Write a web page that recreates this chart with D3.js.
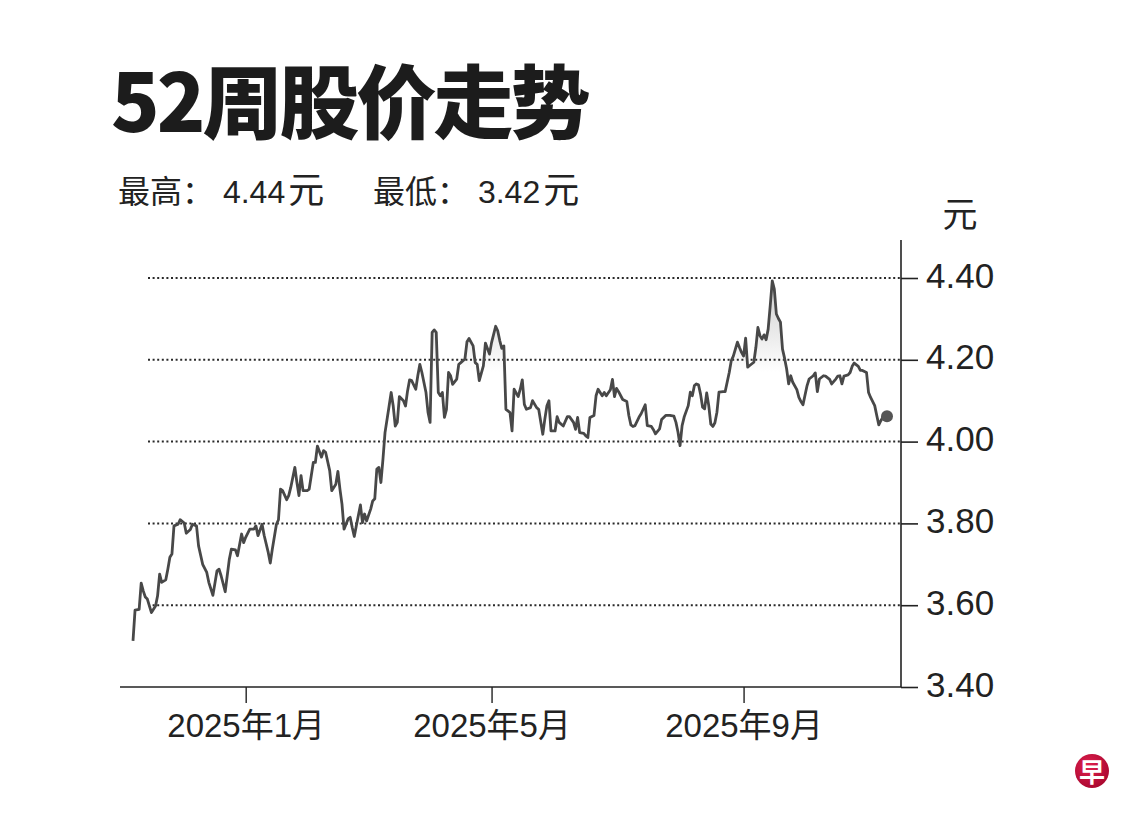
<!DOCTYPE html>
<html>
<head>
<meta charset="utf-8">
<script src="https://cdn.jsdelivr.net/npm/d3@7"></script>
<style>
  body { margin: 0; background: #fff; }
  svg { display: block; }
</style>
</head>
<body>
<svg id="chart" width="1140" height="820"></svg>
<script>
// daily closing prices
var dates = [
  "2024-11-07","2024-11-08","2024-11-10","2024-11-11","2024-11-12","2024-11-13","2024-11-14","2024-11-16","2024-11-18","2024-11-19","2024-11-20","2024-11-21","2024-11-23","2024-11-24","2024-11-25","2024-11-26","2024-11-27","2024-11-29","2024-11-30",
  "2024-12-02","2024-12-03","2024-12-05","2024-12-06","2024-12-08","2024-12-09","2024-12-11","2024-12-13","2024-12-14","2024-12-16","2024-12-18","2024-12-19","2024-12-20","2024-12-22","2024-12-24","2024-12-25","2024-12-27","2024-12-28","2024-12-30","2024-12-31",
  "2025-01-01","2025-01-03","2025-01-05","2025-01-06","2025-01-07","2025-01-09","2025-01-10","2025-01-12","2025-01-13","2025-01-14","2025-01-16","2025-01-17","2025-01-18","2025-01-19","2025-01-21","2025-01-22","2025-01-23","2025-01-25","2025-01-26","2025-01-27","2025-01-28","2025-01-29","2025-01-31",
  "2025-02-01","2025-02-03","2025-02-04","2025-02-05","2025-02-07","2025-02-08","2025-02-09","2025-02-11","2025-02-12","2025-02-14","2025-02-15","2025-02-16","2025-02-17","2025-02-18","2025-02-20","2025-02-21","2025-02-22","2025-02-23","2025-02-24","2025-02-26","2025-02-27","2025-02-28",
  "2025-03-01","2025-03-03","2025-03-04","2025-03-05","2025-03-06","2025-03-07","2025-03-08","2025-03-09","2025-03-10","2025-03-12","2025-03-13","2025-03-14","2025-03-15","2025-03-16","2025-03-17","2025-03-19","2025-03-20","2025-03-21","2025-03-22","2025-03-23","2025-03-25","2025-03-26","2025-03-27","2025-03-28","2025-03-30","2025-03-31",
  "2025-04-01","2025-04-02","2025-04-03","2025-04-04","2025-04-05","2025-04-06","2025-04-07","2025-04-08","2025-04-09","2025-04-10","2025-04-11","2025-04-12","2025-04-14","2025-04-15","2025-04-16","2025-04-18","2025-04-19","2025-04-20","2025-04-22","2025-04-23","2025-04-24","2025-04-25","2025-04-27","2025-04-28","2025-04-30",
  "2025-05-01","2025-05-03","2025-05-04","2025-05-05","2025-05-06","2025-05-07","2025-05-08","2025-05-09","2025-05-10","2025-05-11","2025-05-12","2025-05-14","2025-05-15","2025-05-16","2025-05-17","2025-05-18","2025-05-20","2025-05-21","2025-05-23","2025-05-24","2025-05-26","2025-05-27","2025-05-28","2025-05-29","2025-05-30",
  "2025-06-01","2025-06-02","2025-06-03","2025-06-05","2025-06-07","2025-06-08","2025-06-10","2025-06-11","2025-06-12","2025-06-13","2025-06-15","2025-06-16","2025-06-17","2025-06-18","2025-06-20","2025-06-21","2025-06-22","2025-06-23","2025-06-24","2025-06-25","2025-06-26","2025-06-28","2025-06-29","2025-06-30",
  "2025-07-01","2025-07-02","2025-07-04","2025-07-06","2025-07-07","2025-07-08","2025-07-09","2025-07-10","2025-07-12","2025-07-13","2025-07-15","2025-07-16","2025-07-18","2025-07-19","2025-07-20","2025-07-22","2025-07-23","2025-07-25","2025-07-27","2025-07-29","2025-07-30","2025-07-31",
  "2025-08-01","2025-08-02","2025-08-03","2025-08-05","2025-08-06","2025-08-07","2025-08-08","2025-08-09","2025-08-10","2025-08-11","2025-08-12","2025-08-13","2025-08-14","2025-08-15","2025-08-16","2025-08-17","2025-08-18","2025-08-19","2025-08-20","2025-08-22","2025-08-23","2025-08-25","2025-08-26","2025-08-27","2025-08-28","2025-08-29","2025-08-30","2025-08-31",
  "2025-09-01","2025-09-02","2025-09-03","2025-09-04","2025-09-06","2025-09-07","2025-09-08","2025-09-09","2025-09-10","2025-09-11","2025-09-12","2025-09-13","2025-09-14","2025-09-15","2025-09-16","2025-09-17","2025-09-18","2025-09-19","2025-09-20","2025-09-21","2025-09-22","2025-09-23","2025-09-24","2025-09-25","2025-09-27","2025-09-28","2025-09-29","2025-09-30",
  "2025-10-01","2025-10-02","2025-10-03","2025-10-05","2025-10-06","2025-10-07","2025-10-08","2025-10-10","2025-10-11","2025-10-13","2025-10-14","2025-10-16","2025-10-17","2025-10-18","2025-10-19","2025-10-20","2025-10-22","2025-10-23","2025-10-24","2025-10-25","2025-10-27","2025-10-28","2025-10-29","2025-10-31",
  "2025-11-01","2025-11-02","2025-11-04","2025-11-05","2025-11-06","2025-11-07","2025-11-08","2025-11-10"
];

var prices = [
  3.513,3.588,3.59,3.654,3.635,3.62,3.615,3.582,3.598,3.623,3.676,3.656,3.662,3.688,3.717,3.725,3.794,3.798,3.809,
  3.801,3.776,3.785,3.798,3.794,3.745,3.70,3.68,3.656,3.624,3.684,3.688,3.672,3.633,3.712,3.737,3.735,3.721,3.774,3.753,
  3.766,3.786,3.786,3.794,3.77,3.798,3.771,3.729,3.703,3.737,3.798,3.809,3.884,3.88,3.858,3.868,3.888,3.937,3.90,3.868,3.917,3.88,3.88,
  3.884,3.949,3.949,3.989,3.962,3.978,3.974,3.929,3.88,3.896,3.927,3.884,3.847,3.786,3.811,3.815,3.79,3.768,3.794,3.845,3.802,3.823,
  3.806,3.835,3.855,3.86,3.933,3.937,3.90,3.957,4.022,4.087,4.12,4.087,4.038,4.047,4.11,4.10,4.087,4.124,4.151,4.149,4.128,4.161,4.189,4.169,4.12,4.071,
  4.047,4.267,4.273,4.267,4.12,4.112,4.12,4.059,4.079,4.169,4.161,4.14,4.153,4.189,4.193,4.202,4.244,4.252,4.234,4.193,4.189,4.149,4.185,4.241,4.214,
  4.242,4.282,4.271,4.247,4.228,4.234,4.079,4.075,4.071,4.026,4.128,4.11,4.128,4.151,4.091,4.079,4.083,4.10,4.083,4.079,4.018,4.055,4.087,4.10,4.026,
  4.026,4.061,4.047,4.038,4.061,4.061,4.047,4.03,4.059,4.022,4.02,4.014,4.01,4.059,4.064,4.112,4.128,4.12,4.112,4.12,4.112,4.127,4.152,4.11,
  4.13,4.122,4.103,4.098,4.064,4.041,4.037,4.039,4.06,4.068,4.09,4.039,4.037,4.029,4.019,4.031,4.054,4.064,4.064,4.062,4.047,4.023,
  3.99,4.039,4.06,4.088,4.121,4.112,4.137,4.141,4.139,4.116,4.084,4.08,4.119,4.088,4.043,4.037,4.046,4.072,4.121,4.122,4.122,4.169,4.198,4.209,4.226,4.243,4.23,4.218,
  4.209,4.253,4.182,4.186,4.194,4.23,4.279,4.259,4.251,4.261,4.249,4.275,4.332,4.393,4.373,4.312,4.301,4.292,4.226,4.204,4.178,4.141,4.161,4.145,4.127,4.108,4.098,4.09,
  4.114,4.137,4.153,4.161,4.168,4.122,4.153,4.161,4.16,4.152,4.141,4.153,4.16,4.161,4.141,4.16,4.163,4.169,4.184,4.192,4.184,4.174,4.174,4.169,
  4.12,4.108,4.088,4.064,4.041,4.051,4.06,4.062
];

var yTicks = [3.40, 3.60, 3.80, 4.00, 4.20, 4.40];
var gridTicks = [3.60, 3.80, 4.00, 4.20, 4.40];
var xTicks = ["2025-01-01", "2025-05-01", "2025-09-01"];
var xTickLabels = ["2025年1月", "2025年5月", "2025年9月"];

var titleText = "52周股价走势";
var summaryLabels = ["最高： ", "最低： "];
var summaryValues = ["4.44", "3.42"];
var unitText = "元";

var parse = d3.timeParse("%Y-%m-%d");
var data = dates.map(function (d, i) { return { date: parse(d), price: prices[i] }; });

var svg = d3.select("#chart");
var cjk = "'Noto Sans CJK SC', 'Noto Sans', sans-serif";
var latin = "'Liberation Sans', Arial, 'Noto Sans CJK SC', sans-serif";

var x = d3.scaleTime()
  .domain(d3.extent(data, function (d) { return d.date; }))
  .range([133, 887]);

var y = d3.scaleLinear()
  .domain([3.40, 4.40])
  .range([687, 278]);

// title + high/low
svg.append("text")
  .attr("x", 111)
  .attr("y", 132)
  .attr("font-family", cjk)
  .attr("font-weight", 900)
  .attr("font-size", 80)
  .attr("fill", "#1c1c1c")
  .attr("letter-spacing", -3)
  .text(titleText);

var summary = svg.append("g")
  .selectAll("text")
  .data(summaryLabels)
  .join("text")
  .attr("x", function (d, i) { return i === 0 ? 118 : 373; })
  .attr("y", 203)
  .attr("font-family", latin)
  .attr("font-size", 32)
  .attr("fill", "#222");
summary.append("tspan").text(function (d, i) { return d + summaryValues[i]; });
summary.append("tspan")
  .attr("dx", 3)
  .attr("font-family", cjk)
  .attr("font-size", 36)
  .text(unitText);

// faint fill under the line, only visible near the top
var defs = svg.append("defs");
var grad = defs.append("linearGradient")
  .attr("id", "fade")
  .attr("gradientUnits", "userSpaceOnUse")
  .attr("x1", 0).attr("x2", 0)
  .attr("y1", y(4.40)).attr("y2", y(4.17));
grad.append("stop").attr("offset", 0).attr("stop-color", "#999").attr("stop-opacity", 0.5);
grad.append("stop").attr("offset", 1).attr("stop-color", "#999").attr("stop-opacity", 0);

var area = d3.area()
  .x(function (d) { return x(d.date); })
  .y0(y(4.0))
  .y1(function (d) { return y(d.price); });

svg.append("path")
  .datum(data)
  .attr("d", area)
  .attr("fill", "url(#fade)");

// dotted gridlines
svg.append("g")
  .selectAll("line")
  .data(gridTicks)
  .join("line")
  .attr("x1", 148)
  .attr("x2", 900)
  .attr("y1", function (d) { return y(d); })
  .attr("y2", function (d) { return y(d); })
  .attr("stroke", "#2a2a2a")
  .attr("stroke-width", 2)
  .attr("stroke-dasharray", "2,2.6");

// axes
svg.append("line")
  .attr("x1", 120).attr("x2", 901)
  .attr("y1", y(3.40)).attr("y2", y(3.40))
  .attr("stroke", "#222").attr("stroke-width", 1.6);

svg.append("line")
  .attr("x1", 901).attr("x2", 901)
  .attr("y1", 240).attr("y2", y(3.40))
  .attr("stroke", "#222").attr("stroke-width", 1.6);

var yAxis = svg.append("g")
  .attr("transform", "translate(901,0)")
  .call(d3.axisRight(y).tickValues(yTicks).tickSize(17).tickPadding(8).tickFormat(d3.format(".2f")));
yAxis.select(".domain").remove();
yAxis.selectAll(".tick line").attr("stroke", "#222").attr("stroke-width", 1.6);
yAxis.selectAll(".tick text")
  .attr("font-family", latin)
  .attr("font-size", 35)
  .attr("fill", "#222")
  .attr("dy", "0.26em");

svg.append("text")
  .attr("x", 960)
  .attr("y", 227)
  .attr("text-anchor", "middle")
  .attr("font-family", cjk)
  .attr("font-size", 35)
  .attr("fill", "#222")
  .text(unitText);

var xAxis = svg.append("g")
  .attr("transform", "translate(0," + y(3.40) + ")")
  .call(d3.axisBottom(x)
    .tickValues(xTicks.map(parse))
    .tickSize(16)
    .tickPadding(11)
    .tickFormat(function (d, i) { return xTickLabels[i]; }));
xAxis.select(".domain").remove();
xAxis.selectAll(".tick line").attr("stroke", "#222").attr("stroke-width", 1.4);
xAxis.selectAll(".tick text")
  .attr("font-family", latin)
  .attr("font-size", 33)
  .attr("fill", "#222");

// price line + last point
var line = d3.line()
  .x(function (d) { return x(d.date); })
  .y(function (d) { return y(d.price); });

svg.append("path")
  .datum(data)
  .attr("d", line)
  .attr("fill", "none")
  .attr("stroke", "#484848")
  .attr("stroke-width", 2.8)
  .attr("stroke-linejoin", "round");

var last = data[data.length - 1];
svg.append("circle")
  .attr("cx", x(last.date))
  .attr("cy", y(last.price))
  .attr("r", 6)
  .attr("fill", "#555");

// logo
var logoGrad = defs.append("radialGradient").attr("id", "logo").attr("cx", "40%").attr("cy", "35%").attr("r", "70%");
logoGrad.append("stop").attr("offset", 0).attr("stop-color", "#e0204f");
logoGrad.append("stop").attr("offset", 1).attr("stop-color", "#a8072e");

svg.append("circle")
  .attr("cx", 1092)
  .attr("cy", 771)
  .attr("r", 17)
  .attr("fill", "url(#logo)");

svg.append("text")
  .attr("x", 1092)
  .attr("y", 782)
  .attr("text-anchor", "middle")
  .attr("font-family", "'Noto Sans CJK SC', sans-serif")
  .attr("font-weight", 700)
  .attr("font-size", 26)
  .attr("fill", "#fff")
  .text("早");
</script>
</body>
</html>
